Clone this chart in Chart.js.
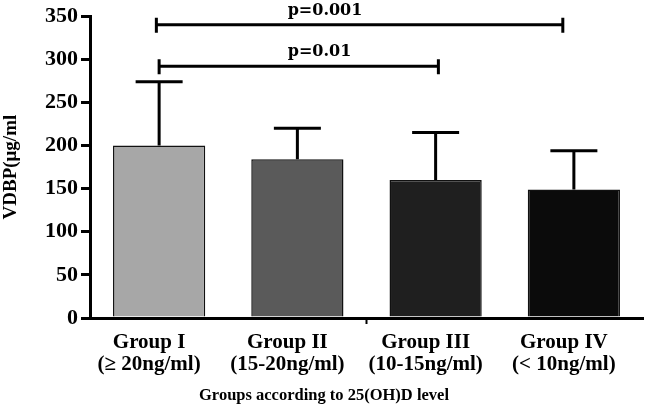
<!DOCTYPE html>
<html>
<head>
<meta charset="utf-8">
<script src="https://cdn.jsdelivr.net/npm/chart.js@4/dist/chart.umd.min.js"></script>
<style>
  html, body { margin: 0; padding: 0; background: #fff; }
  #wrap { width: 646px; height: 408px; position: relative; }
</style>
</head>
<body>
<div id="wrap"><canvas id="vdbp-chart"></canvas></div>
<script>
// Groups and their VDBP values (mean and top of the SD whisker)
const categories = [
    ['Group I', '(\u2265 20ng/ml)'],
    ['Group II', '(15-20ng/ml)'],
    ['Group III', '(10-15ng/ml)'],
    ['Group IV', '(< 10ng/ml)']
];
const means = [200, 184, 160, 149];
const sdTop = [274, 220, 215, 194];
const barColors = ['#a7a7a7', '#5a5a5a', '#1f1f1f', '#0b0b0b'];
const yTicks = [0, 50, 100, 150, 200, 250, 300, 350];

// Significance brackets (x in category index units, y in data units)
const bracketLabels = ['p=0.001', 'p=0.01'];
const bracketFrom = [-0.02, 0];
const bracketTo = [2.92, 2.02];
const bracketY = [340, 292];
const bracketTextX = [1.2, 1.16];

const serif = "'Liberation Serif', 'Times New Roman', serif";

const annotate = {
    id: 'annotate',
    afterDatasetsDraw(chart) {
        const ctx = chart.ctx;
        const x = chart.scales.x;
        const y = chart.scales.y;
        ctx.save();
        ctx.strokeStyle = '#000';
        ctx.lineWidth = 3;
        ctx.lineCap = 'butt';

        // error whiskers
        for (let i = 0; i < means.length; i++) {
            const cx = x.getPixelForValue(i);
            const top = y.getPixelForValue(means[i]);
            const cap = y.getPixelForValue(sdTop[i]);
            ctx.beginPath();
            ctx.moveTo(cx, top);
            ctx.lineTo(cx, cap);
            ctx.moveTo(cx - 23.5, cap);
            ctx.lineTo(cx + 23.5, cap);
            ctx.stroke();
        }

        // brackets
        for (let i = 0; i < bracketLabels.length; i++) {
            const x1 = x.getPixelForValue(bracketFrom[i]);
            const x2 = x.getPixelForValue(bracketTo[i]);
            const by = y.getPixelForValue(bracketY[i]);
            ctx.beginPath();
            ctx.moveTo(x1, by);
            ctx.lineTo(x2, by);
            ctx.moveTo(x1, by - 7);
            ctx.lineTo(x1, by + 8);
            ctx.moveTo(x2, by - 7);
            ctx.lineTo(x2, by + 8);
            ctx.stroke();
            ctx.fillStyle = '#000';
            ctx.font = "bold 16px 'DejaVu Serif', serif";
            ctx.textAlign = 'center';
            ctx.textBaseline = 'bottom';
            ctx.fillText(bracketLabels[i], x.getPixelForValue(bracketTextX[i]), by - 6);
        }

        // the single small tick under the x axis between Group II and III
        const mid = x.getPixelForValue(1.5);
        ctx.lineWidth = 2;
        ctx.beginPath();
        ctx.moveTo(mid, y.bottom);
        ctx.lineTo(mid, y.bottom + 6);
        ctx.stroke();

        // x axis title
        ctx.fillStyle = '#000';
        ctx.font = 'bold 16.5px ' + serif;
        ctx.textAlign = 'center';
        ctx.textBaseline = 'middle';
        ctx.fillText('Groups according to 25(OH)D level', 324, 396);
        ctx.restore();
    }
};

new Chart(document.getElementById('vdbp-chart'), {
    type: 'bar',
    data: {
        labels: categories,
        datasets: [{
            data: means,
            backgroundColor: barColors,
            borderColor: '#111',
            borderWidth: 1.5,
            barPercentage: 0.667,
            categoryPercentage: 1
        }]
    },
    options: {
        responsive: true,
        maintainAspectRatio: false,
        animation: false,
        layout: { padding: { top: 15, right: 3, left: 0, bottom: 0 } },
        plugins: {
            legend: { display: false },
            tooltip: { enabled: false }
        },
        scales: {
            x: {
                afterFit: (scale) => { scale.height = 90; },
                grid: { display: false },
                border: { display: true, color: '#000', width: 3 },
                ticks: {
                    color: '#000',
                    padding: 6,
                    labelOffset: -10,
                    font: { family: serif, size: 21, weight: 'bold', lineHeight: 1.03 },
                    maxRotation: 0,
                    autoSkip: false
                }
            },
            y: {
                min: 0,
                max: 350,
                afterFit: (scale) => { scale.width = 90; },
                afterBuildTicks: (scale) => { scale.ticks = yTicks.map(v => ({ value: v })); },
                grid: {
                    drawOnChartArea: false,
                    drawTicks: true,
                    tickLength: 9,
                    color: '#000',
                    lineWidth: 3
                },
                border: { display: true, color: '#000', width: 3 },
                ticks: {
                    color: '#000',
                    padding: 3,
                    font: { family: serif, size: 22, weight: 'bold' }
                },
                title: {
                    display: true,
                    text: 'VDBP(\u03bcg/ml',
                    color: '#000',
                    padding: 0,
                    font: { family: serif, size: 19, weight: 'bold' }
                }
            }
        }
    },
    plugins: [annotate]
});
</script>
</body>
</html>
